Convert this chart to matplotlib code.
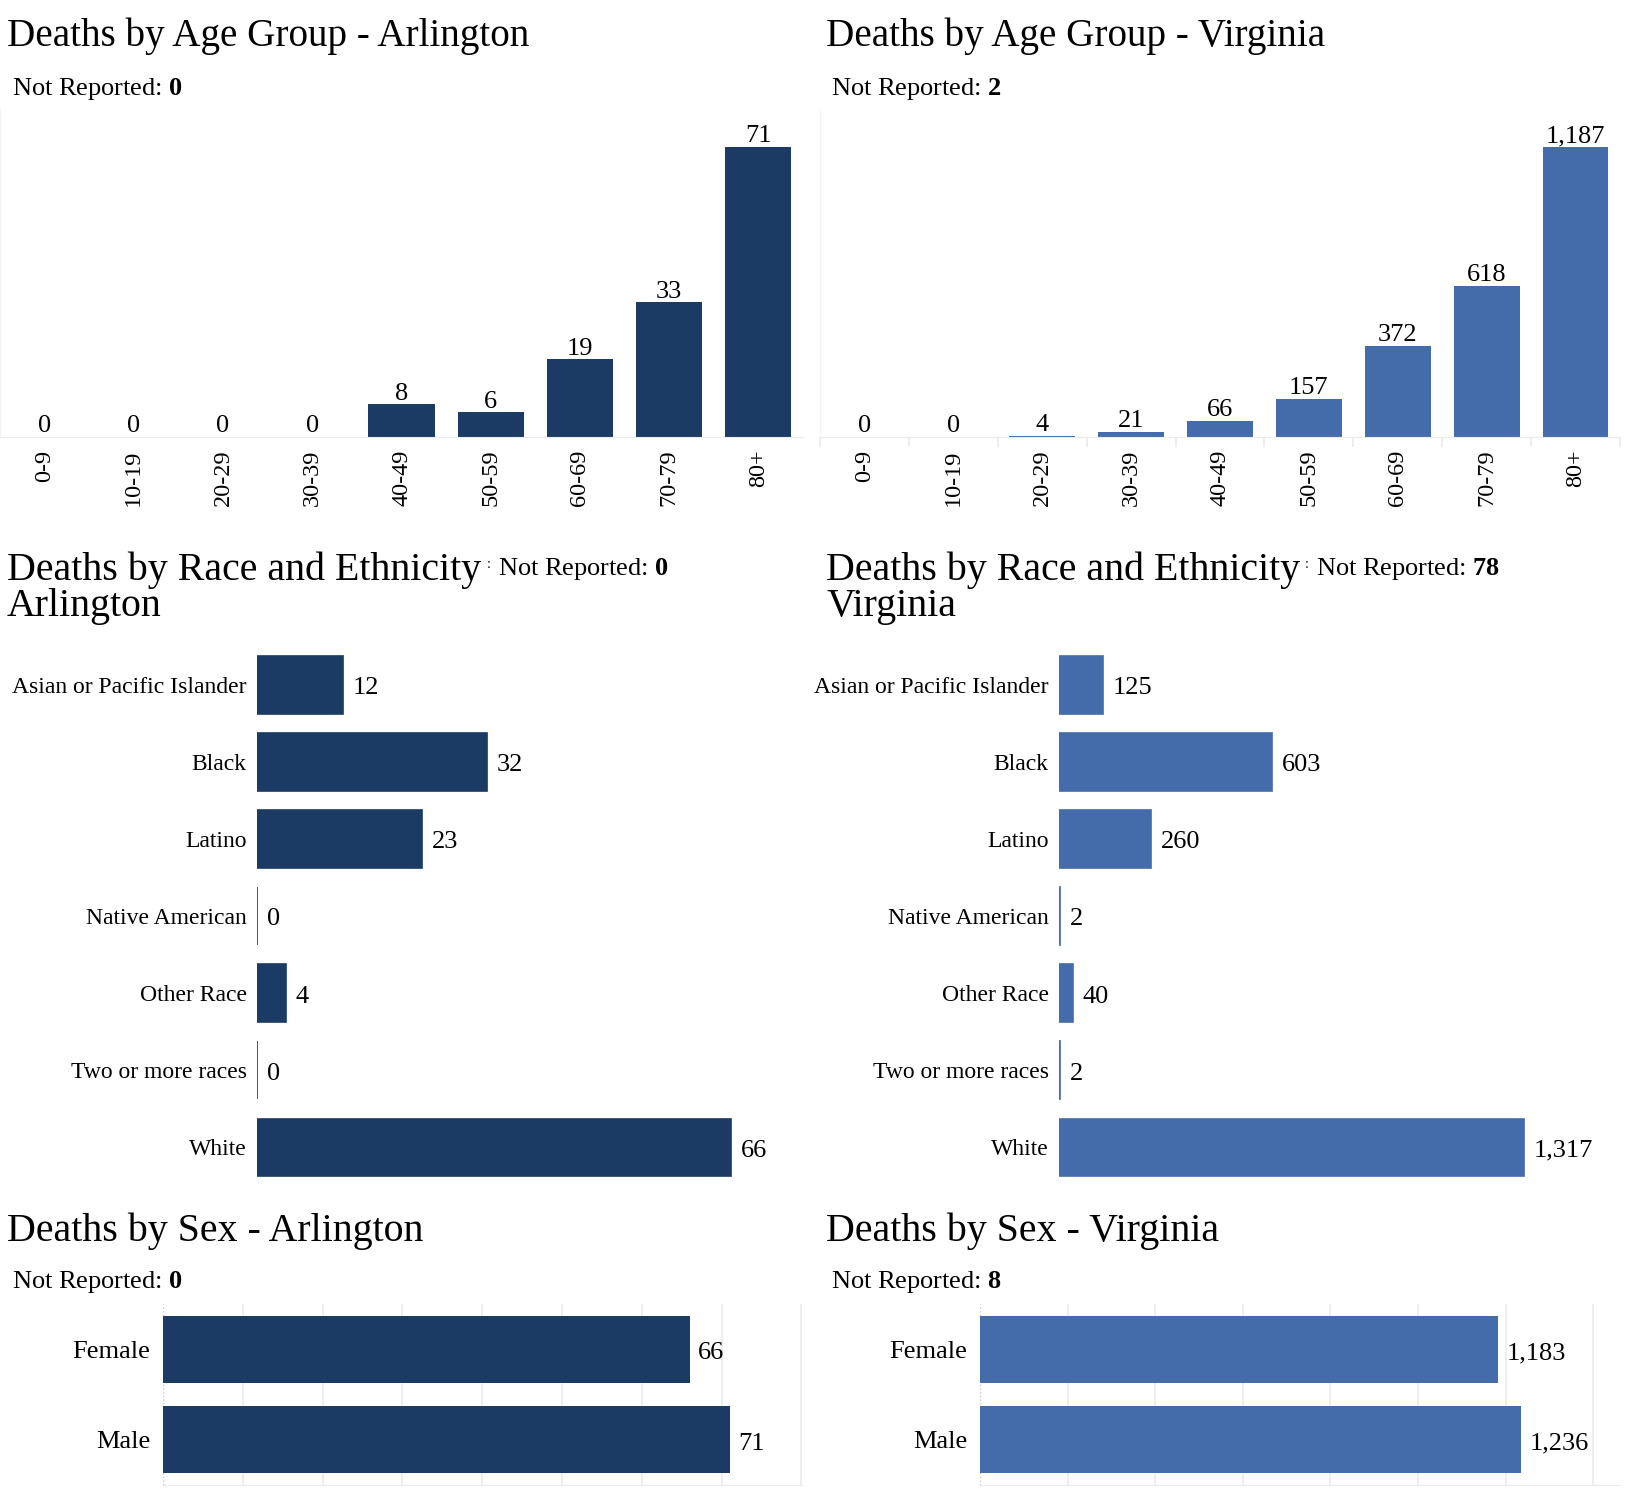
import matplotlib
matplotlib.use("Agg")
import matplotlib.pyplot as plt
import numpy as np
from matplotlib.ticker import FixedLocator

plt.rcParams['font.family'] = ['Liberation Serif', 'DejaVu Serif']
plt.rcParams['mathtext.fontset'] = 'custom'
plt.rcParams['mathtext.rm'] = 'Liberation Serif'
plt.rcParams['mathtext.bf'] = 'Liberation Serif:bold'

# données
regions = ['Arlington', 'Virginia']
age_groups = ['0-9', '10-19', '20-29', '30-39', '40-49', '50-59', '60-69', '70-79', '80+']
age_arl = [0, 0, 0, 0, 8, 6, 19, 33, 71]
age_va = [0, 0, 4, 21, 66, 157, 372, 618, 1187]
races = ['Asian or Pacific Islander', 'Black', 'Latino', 'Native American',
         'Other Race', 'Two or more races', 'White']
race_arl = [12, 32, 23, 0, 4, 0, 66]
race_va = [125, 603, 260, 2, 40, 2, 1317]
sexes = ['Female', 'Male']
sex_arl = [66, 71]
sex_va = [1183, 1236]
nr_age = [0, 2]
nr_race = [0, 78]
nr_sex = [0, 8]

colors = ['#1b3a64', '#446caa']
light = '#ebebeb'

W, H = 1626, 1494
fig = plt.figure(figsize=(W / 100, H / 100), dpi=100)


def box(x0, y0, x1, y1):
    # coordonnées en pixels (origine en haut à gauche) -> fraction de figure
    return [x0 / W, 1 - y1 / H, (x1 - x0) / W, (y1 - y0) / H]


def ftext(x, y, s, **kw):
    return fig.text(x / W, 1 - y / H, s, va='baseline', **kw)


col_x = [7, 826]
TITLE = 28.7
SMALL = 19

# --- âge ---
age_data = [age_arl, age_va]
age_boxes = [(0, 109, 803, 437), (820, 109, 1620, 437)]
for i in range(2):
    ax = fig.add_axes(box(*age_boxes[i]))
    vals = age_data[i]
    ax.bar(range(len(age_groups)), vals, width=0.74, color=colors[i])
    ax.set_xlim(-0.5, len(age_groups) - 0.5)
    ax.set_ylim(0, max(vals) * 1.13)
    ax.set_yticks([])
    ax.set_xticks(range(len(age_groups)))
    ax.set_xticklabels(age_groups, rotation=90, fontsize=17.5)
    ax.tick_params(axis='x', which='major', length=0, pad=9)
    if i == 1:
        ax.xaxis.set_minor_locator(FixedLocator(np.arange(-0.5, len(age_groups), 1)))
        ax.tick_params(axis='x', which='minor', length=7, color=light, width=1.2)
    for s in ['top', 'right']:
        ax.spines[s].set_visible(False)
    ax.spines['bottom'].set_color(light)
    ax.spines['left'].set_color('#f3f3f3')
    for x, v in enumerate(vals):
        ax.annotate(f'{v:,}', (x, v), xytext=(0, -0.3), textcoords='offset points',
                    ha='center', va='bottom', fontsize=SMALL)
    ftext(col_x[i], 46, f'Deaths by Age Group - {regions[i]}', fontsize=28.2)
    ftext(col_x[i] + 5, 95, 'Not Reported: $\\mathbf{' + str(nr_age[i]) + '}$', fontsize=SMALL)

# --- race ---
race_data = [race_arl, race_va]
race_boxes = [(257, 646, 803, 1186), (1059, 646, 1620, 1186)]
race_xmax = [76.0, 1589]
race_nr_x = [498, 1316]
for i in range(2):
    ax = fig.add_axes(box(*race_boxes[i]))
    vals = race_data[i]
    ax.barh(range(len(races)), vals, height=0.75, color=colors[i],
            edgecolor=colors[i], linewidth=1.2)
    ax.set_ylim(len(races) - 0.5, -0.5)
    ax.set_xlim(0, race_xmax[i])
    ax.set_xticks([])
    ax.set_yticks(range(len(races)))
    ax.set_yticklabels(races, fontsize=17)
    ax.tick_params(axis='y', length=0, pad=7.5)
    for s in ax.spines.values():
        s.set_visible(False)
    for y, v in enumerate(vals):
        ax.annotate(f'{v:,}', (v, y), xytext=(7, -2.5), textcoords='offset points',
                    ha='left', va='center', fontsize=SMALL)
    ftext(col_x[i], 580, 'Deaths by Race and Ethnicity', fontsize=TITLE)
    ftext(col_x[i], 616, regions[i], fontsize=TITLE)
    ftext(race_nr_x[i] - 9, 568, ':', fontsize=10, ha='center')
    ftext(race_nr_x[i], 575, 'Not Reported: $\\mathbf{' + str(nr_race[i]) + '}$', fontsize=SMALL)

# --- sexe ---
sex_data = [sex_arl, sex_va]
sex_boxes = [(163, 1304, 803, 1485), (980, 1304, 1620, 1485)]
sex_xmax = [80.2, 1461]
sex_step = [10, 200]
for i in range(2):
    ax = fig.add_axes(box(*sex_boxes[i]))
    vals = sex_data[i]
    ax.barh(range(len(sexes)), vals, height=0.74, color=colors[i], zorder=3)
    ax.set_ylim(len(sexes) - 0.5, -0.5)
    ax.set_xlim(0, sex_xmax[i])
    ax.xaxis.set_major_locator(FixedLocator(np.arange(sex_step[i], sex_xmax[i], sex_step[i])))
    ax.grid(axis='x', color=light, linewidth=1.2, zorder=0)
    ax.axvline(0, color='#c8c8c8', linestyle=':', linewidth=1, zorder=1)
    ax.tick_params(axis='x', length=0, labelbottom=False)
    ax.set_yticks(range(len(sexes)))
    ax.set_yticklabels(sexes, fontsize=SMALL)
    ax.tick_params(axis='y', length=0, pad=9)
    for s in ['top', 'right', 'left']:
        ax.spines[s].set_visible(False)
    ax.spines['bottom'].set_color(light)
    for y, v in enumerate(vals):
        ax.annotate(f'{v:,}', (v, y), xytext=(6, -3), textcoords='offset points',
                    ha='left', va='center', fontsize=SMALL)
    ftext(col_x[i], 1241, f'Deaths by Sex - {regions[i]}', fontsize=TITLE)
    ftext(col_x[i] + 5, 1288, 'Not Reported: $\\mathbf{' + str(nr_sex[i]) + '}$', fontsize=SMALL)

fig.savefig('out.png', dpi=100)
